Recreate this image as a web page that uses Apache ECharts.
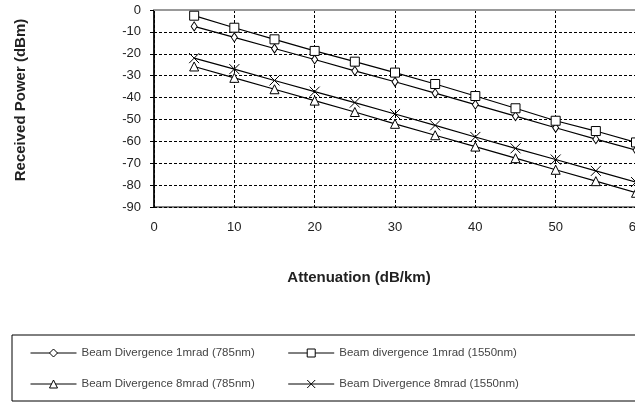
<!DOCTYPE html>
<html>
<head>
<meta charset="utf-8">
<script src="https://cdn.jsdelivr.net/npm/echarts@6/dist/echarts.min.js"></script>
<style>
html,body{margin:0;padding:0;background:#fff;}
#chart{width:635px;height:402px;}
</style>
</head>
<body>
<div id="chart"></div>
<script>
var attenuation = [5, 10, 15, 20, 25, 30, 35, 40, 45, 50, 55, 60];
var div1mrad785 = [-7.5, -12.5, -17.6, -22.6, -27.8, -32.8, -38, -43.2, -48.5, -53.8, -59, -64];
var div1mrad1550 = [-2.6, -8.1, -13.4, -18.7, -23.6, -28.6, -33.8, -39.3, -44.9, -50.6, -55.3, -60.5];
var div8mrad785 = [-25.8, -31, -36.2, -41.4, -46.6, -52, -57.2, -62.4, -67.7, -73, -78.2, -83.5];
var div8mrad1550 = [-22, -27, -32.2, -37.3, -42.3, -47.5, -52.7, -58, -63.2, -68.3, -73.5, -78.6];
var seriesNames = [
  'Beam Divergence 1mrad (785nm)',
  'Beam divergence 1mrad (1550nm)',
  'Beam Divergence 8mrad (785nm)',
  'Beam Divergence 8mrad (1550nm)'
];
var xTitle = 'Attenuation (dB/km)';
var yTitle = 'Received Power (dBm)';

function pairs(ys) { return attenuation.map(function (x, i) { return [x, ys[i]]; }); }
var FONT = '"Liberation Sans", Arial, sans-serif';
function mk(name, ys, symbol, size) {
  return {
    name: name, type: 'line', data: pairs(ys),
    symbol: symbol, symbolSize: size, showSymbol: true,
    lineStyle: { color: '#000', width: 1.2 },
    itemStyle: { color: '#fff', borderColor: '#000', borderWidth: 1 },
    emphasis: { disabled: true }, animation: false
  };
}
var chart = echarts.init(document.getElementById('chart'), null, { renderer: 'canvas' });
chart.setOption({
  backgroundColor: '#fff',
  animation: false,
  grid: { left: 154, right: -1, top: 10, bottom: 195, show: true, borderColor: '#000', borderWidth: 1,
          containLabel: false, outerBoundsMode: 'none' },
  xAxis: {
    type: 'value', min: 0, max: 60, interval: 10,
    name: xTitle, nameLocation: 'middle', nameGap: 63,
    nameTextStyle: { fontFamily: FONT, fontSize: 15, fontWeight: 'bold', color: '#222', padding: [0, 72, 0, 0] },
    axisLine: { show: true, lineStyle: { color: '#999', width: 2 } },
    axisTick: { show: false },
    axisLabel: { fontFamily: FONT, fontSize: 13, color: '#222', margin: 14 },
    splitLine: { show: true, lineStyle: { color: '#000', type: [3, 2], width: 1 } }
  },
  yAxis: {
    type: 'value', min: -90, max: 0, interval: 10,
    name: yTitle, nameLocation: 'middle', nameGap: 126,
    nameTextStyle: { fontFamily: FONT, fontSize: 15, fontWeight: 'bold', color: '#222', padding: [0, 0, 0, 17] },
    axisLine: { show: true, lineStyle: { color: '#000', width: 1.5 } },
    axisTick: { show: true, inside: false, length: 4, lineStyle: { color: '#000' } },
    axisLabel: { fontFamily: FONT, fontSize: 13, color: '#222', margin: 13 },
    splitLine: { show: true, lineStyle: { color: '#000', type: [3, 2], width: 1 } }
  },
  legend: {
    left: 12, top: 335, width: 560,
    orient: 'horizontal',
    padding: [11, 220, 10, 18],
    itemGap: 17, itemWidth: 46, itemHeight: 10,
    borderColor: '#000', borderWidth: 1,
    lineStyle: { width: 1, color: '#000' },
    itemStyle: { borderWidth: 1, borderColor: '#000', color: '#fff' },
    textStyle: { fontFamily: FONT, fontSize: 11.5, color: '#444', lineHeight: 14, padding: [0, 16, 0, 0] },
    data: seriesNames
  },
  series: [
    mk(seriesNames[0], div1mrad785, 'diamond', [6, 9]),
    mk(seriesNames[1], div1mrad1550, 'rect', 9),
    mk(seriesNames[2], div8mrad785, 'triangle', 9),
    mk(seriesNames[3], div8mrad1550, 'path://M0,0L10,10M10,0L0,10', 10)
  ]
});
</script>
</body>
</html>
